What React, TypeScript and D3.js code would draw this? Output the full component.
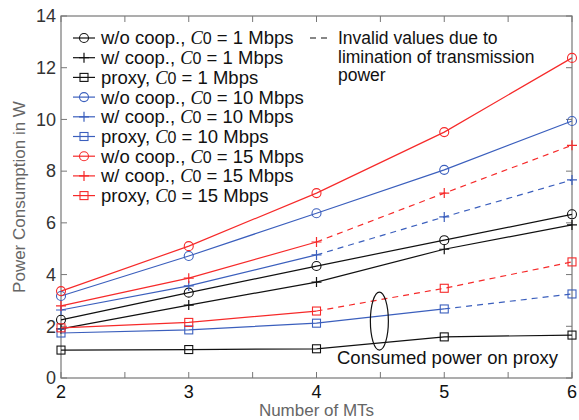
import * as d3 from "d3";

const W = 579;
const H = 420;
const M = { left: 61, right: 7, top: 16, bottom: 42 };

const mts = [2, 3, 4, 5, 6];
const xTicks = [2, 2.5, 3, 3.5, 4, 4.5, 5, 5.5, 6];
const yTicks = [0, 2, 4, 6, 8, 10, 12, 14];

const woCoop1 = [2.25, 3.3, 4.33, 5.33, 6.33];
const wCoop1 = [1.9, 2.82, 3.71, 4.98, 5.92];
const proxy1 = [1.08, 1.1, 1.13, 1.59, 1.66];
const woCoop10 = [3.17, 4.72, 6.37, 8.05, 9.94];
const wCoop10 = [2.63, 3.56, 4.76, 6.23, 7.66];
const proxy10 = [1.74, 1.86, 2.12, 2.67, 3.25];
const woCoop15 = [3.36, 5.1, 7.15, 9.51, 12.38];
const wCoop15 = [2.79, 3.86, 5.26, 7.15, 9.0];
const proxy15 = [1.94, 2.15, 2.59, 3.47, 4.49];

const BLACK = "#111";
const BLUE = "#3b5fbd";
const RED = "#f62a2a";
const FONT = "'Liberation Sans', Arial, sans-serif";

type Series = {
  name: string;
  rate: string;
  values: number[];
  color: string;
  marker: "circle" | "plus" | "square";
  validUpTo: number; // last index drawn solid
};

const series: Series[] = [
  { name: "w/o coop.", rate: "1", values: woCoop1, color: BLACK, marker: "circle", validUpTo: 4 },
  { name: "w/ coop.", rate: "1", values: wCoop1, color: BLACK, marker: "plus", validUpTo: 4 },
  { name: "proxy", rate: "1", values: proxy1, color: BLACK, marker: "square", validUpTo: 4 },
  { name: "w/o coop.", rate: "10", values: woCoop10, color: BLUE, marker: "circle", validUpTo: 4 },
  { name: "w/ coop.", rate: "10", values: wCoop10, color: BLUE, marker: "plus", validUpTo: 2 },
  { name: "proxy", rate: "10", values: proxy10, color: BLUE, marker: "square", validUpTo: 3 },
  { name: "w/o coop.", rate: "15", values: woCoop15, color: RED, marker: "circle", validUpTo: 4 },
  { name: "w/ coop.", rate: "15", values: wCoop15, color: RED, marker: "plus", validUpTo: 2 },
  { name: "proxy", rate: "15", values: proxy15, color: RED, marker: "square", validUpTo: 2 },
];

const invalidNote = ["Invalid values due to", "limination of transmission", "power"];

const Marker = ({ type, x, y, color }: { type: string; x: number; y: number; color: string }) => {
  if (type === "circle")
    return <circle cx={x} cy={y} r={4.5} fill="none" stroke={color} strokeWidth={1.1} />;
  if (type === "square")
    return <rect x={x - 4} y={y - 4} width={8} height={8} fill="none" stroke={color} strokeWidth={1.1} />;
  return (
    <path d={`M${x - 5},${y}H${x + 5}M${x},${y - 5}V${y + 5}`} stroke={color} strokeWidth={1.2} />
  );
};

const App = () => {
  const x = d3.scaleLinear().domain([2, 6]).range([M.left, W - M.right]);
  const y = d3.scaleLinear().domain([0, 14]).range([H - M.bottom, M.top]);
  const line = d3
    .line<[number, number]>()
    .x((d) => x(d[0]))
    .y((d) => y(d[1]));

  const x0 = x.range()[0];
  const x1 = x.range()[1];
  const y0 = y.range()[0];
  const y1 = y.range()[1];
  const axisColor = "#777";
  const tickLen = 6;

  return (
    <svg width={W} height={H} style={{ position: "absolute", left: 0, top: 0 }} fontFamily={FONT}>
      <rect width={W} height={H} fill="#fff" />

      {/* frame + ticks */}
      <rect x={x0} y={y1} width={x1 - x0} height={y0 - y1} fill="none" stroke={axisColor} strokeWidth={1.2} />
      {xTicks.map((t) => (
        <g key={"xt" + t}>
          <line x1={x(t)} x2={x(t)} y1={y0} y2={y0 - tickLen} stroke={axisColor} />
          <line x1={x(t)} x2={x(t)} y1={y1} y2={y1 + tickLen} stroke={axisColor} />
        </g>
      ))}
      {yTicks.map((t) => (
        <g key={"yt" + t}>
          <line x1={x0} x2={x0 + tickLen} y1={y(t)} y2={y(t)} stroke={axisColor} />
          <line x1={x1} x2={x1 - tickLen} y1={y(t)} y2={y(t)} stroke={axisColor} />
          <text x={x0 - 5} y={y(t)} dy="0.35em" textAnchor="end" fontSize={18} fill="#333">
            {t}
          </text>
        </g>
      ))}
      {mts.map((t) => (
        <text key={"xl" + t} x={x(t)} y={398} textAnchor="middle" fontSize={18} fill="#111">
          {t}
        </text>
      ))}
      <text x={(x0 + x1) / 2} y={416} textAnchor="middle" fontSize={17} fill="#666">
        Number of MTs
      </text>
      <text
        transform={`translate(25, ${(y0 + y1) / 2}) rotate(-90)`}
        textAnchor="middle"
        fontSize={17}
        fill="#666"
      >
        Power Consumption in W
      </text>

      {/* series */}
      {series.map((s, i) => {
        const pts: [number, number][] = s.values.map((v, j) => [mts[j], v]);
        const solid = pts.slice(0, s.validUpTo + 1);
        const dashed = pts.slice(s.validUpTo);
        return (
          <g key={"s" + i}>
            <path d={line(solid) ?? ""} fill="none" stroke={s.color} strokeWidth={1.2} />
            {dashed.length > 1 && (
              <path d={line(dashed) ?? ""} fill="none" stroke={s.color} strokeWidth={1.2} strokeDasharray="6,5" />
            )}
            {pts.map((p, j) => (
              <Marker key={j} type={s.marker} x={x(p[0])} y={y(p[1])} color={s.color} />
            ))}
          </g>
        );
      })}

      {/* legend */}
      {series.map((s, i) => {
        const ly = 38 + i * 19.7;
        return (
          <g key={"lg" + i}>
            <line x1={73} x2={95} y1={ly} y2={ly} stroke={s.color} strokeWidth={1.2} />
            <Marker type={s.marker} x={84} y={ly} color={s.color} />
            <text x={101} y={ly} dy="0.35em" fontSize={18.5} fill="#111">
              {s.name},{" "}
              <tspan fontFamily="'Liberation Serif', 'Times New Roman', serif" fontStyle="italic">
                C
              </tspan>
              <tspan fontSize={16}>0</tspan> = {s.rate} Mbps
            </text>
          </g>
        );
      })}
      <line x1={310} x2={332} y1={38} y2={38} stroke={BLACK} strokeWidth={1.2} strokeDasharray="6,5" />
      {invalidNote.map((t, i) => (
        <text key={"inv" + i} x={338} y={38 + i * 18.5} dy="0.35em" fontSize={17.5} fill="#111">
          {t}
        </text>
      ))}

      {/* annotation */}
      <ellipse cx={x(4.5) - 1} cy={y(2.2)} rx={9} ry={29} fill="none" stroke={BLACK} strokeWidth={1.2} />
      <text x={337} y={358} dy="0.35em" fontSize={18.5} fill="#111">
        Consumed power on proxy
      </text>
    </svg>
  );
};

export default App;
